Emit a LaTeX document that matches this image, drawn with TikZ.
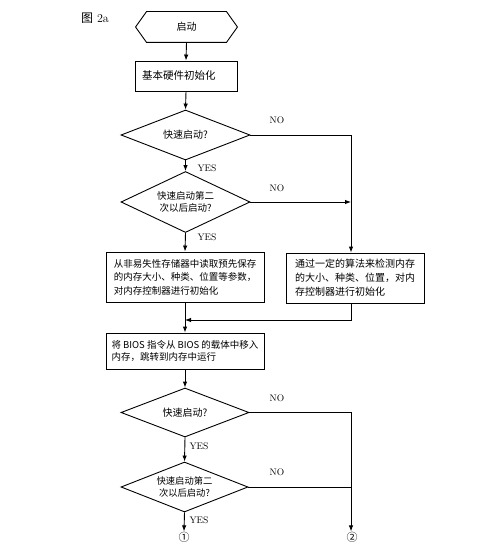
\documentclass[tikz,border=0pt]{standalone}
\usepackage{fontspec}
\newfontfamily\cjk{Noto Sans CJK SC}
\usetikzlibrary{shapes.geometric,arrows.meta}
\begin{document}
\begin{tikzpicture}[x=1pt,y=-1pt, line width=0.9pt,
  box/.style={draw, rectangle, inner sep=0pt, align=left, font=\cjk\fontsize{9.5}{13.5}\selectfont},
  dec/.style={draw, diamond, aspect=2.5, inner sep=0pt, align=center, font=\cjk\fontsize{10}{12}\selectfont},
  lbl/.style={inner sep=0pt, font=\fontsize{9.5}{10}\selectfont},
  arr/.style={-{Latex[length=6pt,width=4.5pt]}},
  term/.style={inner sep=0pt, font=\cjk\fontsize{11}{12}\selectfont}
]
\fill[white] (0,0) rectangle (500,556);
\useasboundingbox (0,0) rectangle (500,556);

\node[inner sep=0pt, font=\fontsize{12}{13}\selectfont] (title) at (95,18) {{\cjk 图} 2a};

\node[inner sep=0pt, minimum width=101pt, minimum height=30pt, font=\cjk\fontsize{10}{12}\selectfont] (start) at (186.5,27) {启动};
\draw (start.west) -- ([xshift=11pt]start.north west) -- ([xshift=-11pt]start.north east) -- (start.east) -- ([xshift=-11pt]start.south east) -- ([xshift=11pt]start.south west) -- cycle;

\node[box, minimum width=102pt, minimum height=30pt, text width=88pt, font=\cjk\fontsize{10.5}{12}\selectfont] (hw) at (186,76) {基本硬件初始化};

\node[dec, minimum width=129pt, minimum height=50pt] (d1) at (185.5,135) {快速启动?};
\node[dec, minimum width=129pt, minimum height=61pt, font=\cjk\fontsize{9.5}{12}\selectfont] (d2) at (185.5,202) {快速启动第二\\次以后启动?};

\node[box, minimum width=158pt, minimum height=50pt] (L) at (185,277) {从非易失性存储器中读取预先保存\\的内存大小、种类、位置等参数，\\对内存控制器进行初始化};
\node[box, minimum width=138pt, minimum height=50pt, font=\cjk\fontsize{10}{14}\selectfont] (R) at (355,278) {通过一定的算法来检测内存\\的大小、种类、位置，对内\\存控制器进行初始化};
\node[box, minimum width=158pt, minimum height=36pt, font=\cjk\fontsize{9.5}{12.5}\selectfont] (bios) at (185,351) {将 BIOS 指令从 BIOS 的载体中移入\\内存，跳转到内存中运行};

\node[dec, minimum width=128pt, minimum height=49pt] (d3) at (185,412.5) {快速启动?};
\node[dec, minimum width=127pt, minimum height=50pt, font=\cjk\fontsize{9.3}{11.5}\selectfont] (d4) at (184.5,487) {快速启动第二\\次以后启动?};

\node[term] (o1) at (184,537) {①};
\node[term] (o2) at (352,537) {②};

\coordinate (c1) at (351,135);
\coordinate (m) at (351,320);
\coordinate (c2) at (351,412.5);

\draw[arr] (start.south) -- (hw.north);
\draw[arr] (hw.south) -- (d1.north);
\draw[arr] (d1.south) -- (d2.north);
\draw[arr] (d2.south) -- (L.north);
\draw[arr] (d1.east) -- (c1) -- (c1 |- R.north);
\draw[arr] (d2.east) -- (c1 |- d2.east);
\draw[arr] (c1 |- R.south) -- (m) -- (m -| L.south);
\draw[arr] (L.south) -- (bios.north);
\draw[arr] (bios.south) -- (d3.north);
\draw[arr] (d3.south) -- (d4.north);
\draw[arr] (d4.south) -- (o1.north);
\draw[arr] (d3.east) -- (c2) -- (c2 |- o2.north);
\draw (d4.east) -- (c2 |- d4.east);

\node[lbl] (no1) at (277,120) {NO};
\node[lbl] (yes1) at (207,168) {YES};
\node[lbl] (no2) at (277,188) {NO};
\node[lbl] (yes2) at (207,237) {YES};
\node[lbl] (no3) at (277,398) {NO};
\node[lbl] (yes3) at (199,446) {YES};
\node[lbl] (no4) at (277,472) {NO};
\node[lbl] (yes4) at (199,520) {YES};
\end{tikzpicture}
\end{document}
